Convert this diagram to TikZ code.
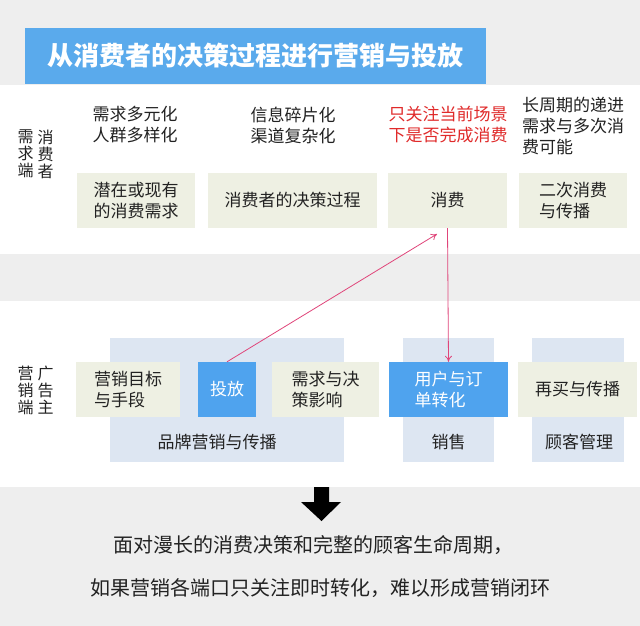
\documentclass[tikz,border=0pt]{standalone}
\usepackage{fontspec}
\setmainfont{Noto Sans CJK SC}
\usetikzlibrary{arrows.meta}
\definecolor{bandgrey}{HTML}{EEEEEE}
\definecolor{titleblue}{HTML}{5AAAEC}
\definecolor{boxblue}{HTML}{4FA3EE}
\definecolor{boxbeige}{HTML}{EEF0E3}
\definecolor{panelblue}{HTML}{DDE6F2}
\definecolor{arrowred}{HTML}{E0457A}
\definecolor{notered}{HTML}{E02A2A}
\definecolor{textgrey}{HTML}{222222}
\begin{document}
\begin{tikzpicture}[x=1pt,y=-1pt,
  txt/.style={inner sep=0pt, align=left, text=textgrey, font=\fontsize{17}{21}\selectfont},
  beigebox/.style={txt, fill=boxbeige, minimum height=55pt},
  bluebox/.style={txt, fill=boxblue, text=white, minimum height=55pt},
  panel/.style={fill=panelblue, minimum height=124pt, inner sep=0pt},
  sidetxt/.style={inner sep=0pt, align=center, text=textgrey, font=\fontsize{16}{17}\selectfont},
  redarrow/.style={-{To[length=6pt,width=7pt]}, arrowred, line width=0.8pt}]
\useasboundingbox (0,0) rectangle (640,626);
% background bands
\fill[white] (0,0) rectangle (640,626);
\fill[bandgrey] (0,0) rectangle (640,85);
\fill[bandgrey] (0,254) rectangle (640,301);
\fill[bandgrey] (0,487) rectangle (640,626);
% title
\node[fill=titleblue, minimum width=461pt, minimum height=56pt, inner sep=0pt,
  text=white, font=\fontsize{26}{30}\selectfont\bfseries] (title) at (255.5,56) {从消费者的决策过程进行营销与投放};
% consumer side
\node[sidetxt] (sideA) at (25.5,154) {需\\求\\端};
\node[sidetxt] (sideB) at (45.5,154) {消\\费\\者};
\node[txt] (noteA) at (135,125) {需求多元化\\人群多样化};
\node[txt] (noteB) at (293,125) {信息碎片化\\渠道复杂化};
\node[txt, text=notered] (noteC) at (448,125) {只关注当前场景\\下是否完成消费};
\node[txt, anchor=west] (noteD) at (522,126) {长周期的递进\\需求与多次消\\费可能};
\node[beigebox, minimum width=118pt] (xuqiu) at (136,200.5) {潜在或现有\\的消费需求};
\node[beigebox, minimum width=169pt] (juece) at (292.5,200.5) {消费者的决策过程};
\node[beigebox, minimum width=119pt] (xiaofei) at (447.5,200.5) {消费};
\node[beigebox, minimum width=108pt] (erci) at (573,200.5) {二次消费\\与传播};
% advertiser side
\node[panel, minimum width=234pt] (pinpai) at (227,400) {};
\node[panel, minimum width=91pt] (xiaoshou) at (448.5,400) {};
\node[panel, minimum width=92pt] (guke) at (578,400) {};
\node[txt] (pinpaiL) at (217,442) {品牌营销与传播};
\node[txt] (xiaoshouL) at (448.5,442) {销售};
\node[txt] (gukeL) at (579,442) {顾客管理};
\node[sidetxt] (sideC) at (25.5,390) {营\\销\\端};
\node[sidetxt] (sideD) at (45.5,390) {广\\告\\主};
\node[beigebox, minimum width=104pt] (mubiao) at (128,389.5) {营销目标\\与手段};
\node[bluebox, minimum width=58pt] (toufang) at (227,389.5) {投放};
\node[beigebox, minimum width=107pt] (yingxiang) at (325.5,389.5) {需求与决\\策影响};
\node[bluebox, minimum width=119pt] (zhuanhua) at (448.5,389.5) {用户与订\\单转化};
\node[beigebox, minimum width=119pt] (zaimai) at (577.5,389.5) {再买与传播};
% arrows
\coordinate (tip) at (437,234);
\draw[redarrow] (toufang.north) -- (tip);
\draw[redarrow] (xiaofei.south) -- (zhuanhua.north);
% conclusion
\fill[black] (314,487) -- (329,487) -- (329,502) -- (341,502) -- (321.5,521) -- (301,502) -- (314,502) -- cycle;
\node[txt, font=\fontsize{20}{24}\selectfont] (lineA) at (313,545) {面对漫长的消费决策和完整的顾客生命周期，};
\node[txt, font=\fontsize{20}{24}\selectfont] (lineB) at (320,588) {如果营销各端口只关注即时转化，难以形成营销闭环};
\end{tikzpicture}
\end{document}
